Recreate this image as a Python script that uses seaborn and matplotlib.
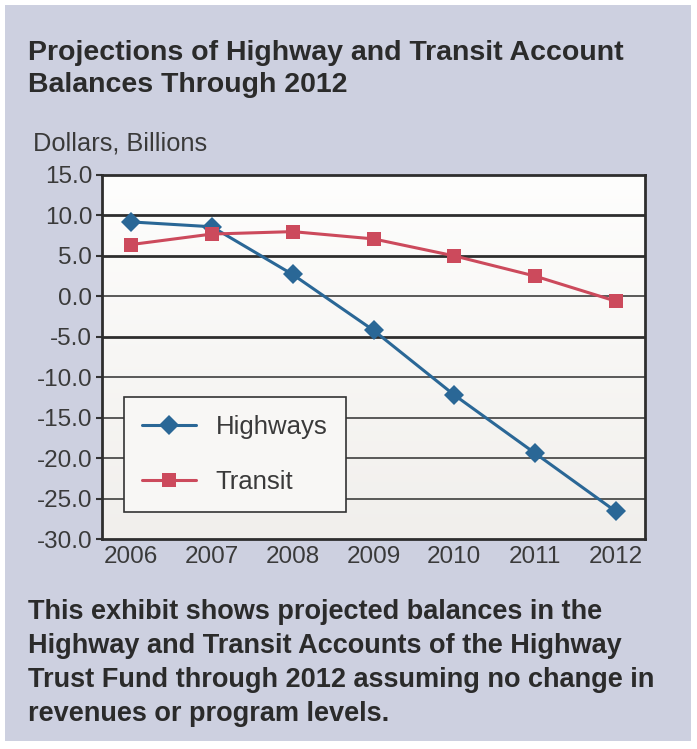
import numpy as np
import pandas as pd
import matplotlib
matplotlib.use("Agg")
import matplotlib.pyplot as plt
import seaborn as sns
from matplotlib.patches import Rectangle
from matplotlib.colors import LinearSegmentedColormap

years = ["2006", "2007", "2008", "2009", "2010", "2011", "2012"]
highways = [9.2, 8.6, 2.7, -4.2, -12.2, -19.4, -26.6]
transit = [6.4, 7.7, 8.0, 7.1, 5.0, 2.5, -0.6]
yticks = [15, 10, 5, 0, -5, -10, -15, -20, -25, -30]
thick_grid = [10, 5, -5]

sns.set_theme(style="white")
plt.rcParams['font.family'] = ['Liberation Sans', 'DejaVu Sans']

df = pd.DataFrame({
    "year": list(range(len(years))) * 2,
    "value": highways + transit,
    "series": ["Highways"] * len(years) + ["Transit"] * len(years),
})

BG = "#cdd0e0"
fig = plt.figure(figsize=(6.97, 7.49), dpi=100)
fig.patch.set_facecolor("white")
fig.patches.append(Rectangle((5/697, 1-741/749), 686/697, 736/749,
                             transform=fig.transFigure, facecolor=BG,
                             edgecolor="none", zorder=-10))

ax = fig.add_axes([102/697, 1-539/749, 543/697, 364/749])
ax.set_facecolor("#f7f6f4")
grad = np.linspace(0, 1, 256).reshape(-1, 1)
cmap = LinearSegmentedColormap.from_list("g", ["#fefefd", "#f1efec"])
ax.imshow(grad, cmap=cmap, aspect="auto", extent=[0, 1, 0, 1],
          transform=ax.transAxes, zorder=0)

for v in yticks[1:-1]:
    ax.axhline(v, color="#2e2e2e", lw=2.0 if v in thick_grid else 1.1, zorder=1)

sns.lineplot(data=df, x="year", y="value", hue="series", style="series",
             palette={"Highways": "#2a6796", "Transit": "#cc4a5c"},
             markers={"Highways": "D", "Transit": "s"},
             dashes=False, lw=2.2, markersize=10.5, markeredgewidth=0,
             ax=ax, zorder=3)

ax.set_xlim(-0.36, 6.36)
ax.set_ylim(-30, 15)
ax.set_xticks(range(len(years)))
ax.set_xticklabels(years)
ax.set_yticks(yticks)
ax.set_yticklabels([f"{v:.1f}" for v in yticks])
ax.tick_params(axis="both", labelsize=17.5, colors="#3a3a3a", pad=3)
ax.tick_params(axis="y", length=4, width=1.5, left=True, color="#333333")
ax.tick_params(axis="x", length=0, pad=5)
ax.set_xlabel("")
ax.set_ylabel("")
for s in ax.spines.values():
    s.set_color("#2e2e2e")
    s.set_linewidth(2.0)

h, l = ax.get_legend_handles_labels()
leg = ax.legend(h, l, loc="lower left", bbox_to_anchor=(0.0405, 0.074),
                borderaxespad=0, fontsize=18.5, frameon=True, fancybox=False,
                handlelength=2.1, handletextpad=0.75, borderpad=0.72,
                labelspacing=1.18, labelcolor="#3a3a3a")
leg.get_frame().set_edgecolor("#333333")
leg.get_frame().set_linewidth(1.2)
leg.get_frame().set_facecolor("#f8f7f5")
leg.get_frame().set_alpha(1)

fig.text(28/697, 1-69/749, "Projections of Highway and Transit Account\nBalances Through 2012",
         fontsize=20.5, fontweight="bold", color="#2b2b2b", va="center",
         linespacing=1.3)
fig.text(33/697, 1-144/749, "Dollars, Billions", fontsize=18.3, color="#3a3a3a",
         va="center")
fig.text(28/697, 1-663/749,
         "This exhibit shows projected balances in the\nHighway and Transit Accounts of the Highway\n"
         "Trust Fund through 2012 assuming no change in\nrevenues or program levels.",
         fontsize=19.5, fontweight="bold", color="#2b2b2b", va="center",
         linespacing=1.39)

fig.savefig("out.png", dpi=100, facecolor=fig.get_facecolor())
